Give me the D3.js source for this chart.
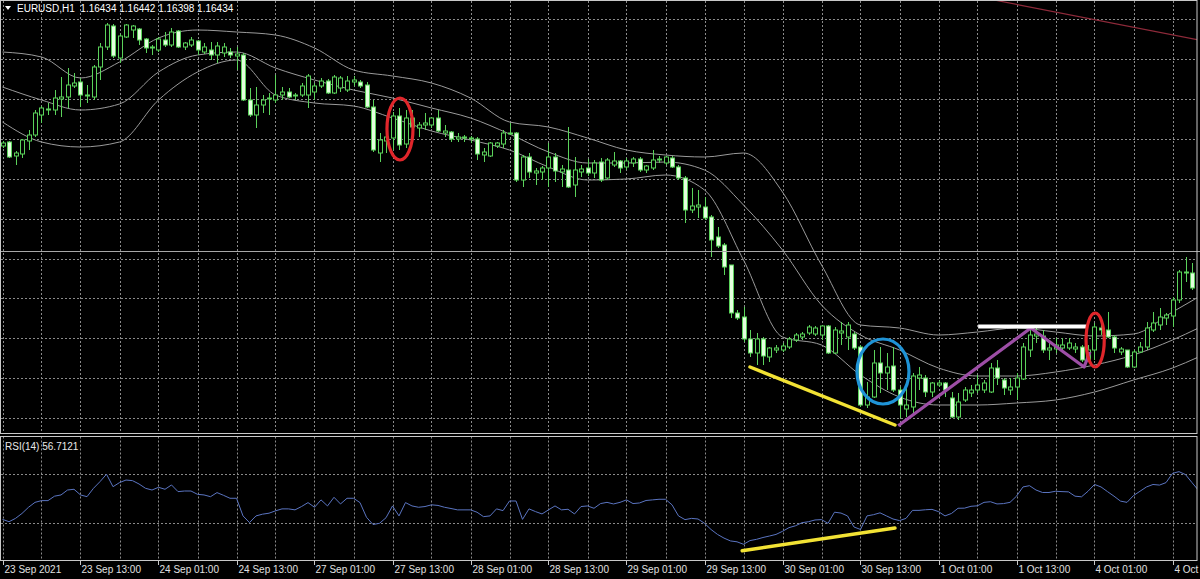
<!DOCTYPE html>
<html><head><meta charset="utf-8">
<script src="https://cdn.jsdelivr.net/npm/d3@7"></script>
<style>html,body{margin:0;padding:0;background:#000;overflow:hidden}svg{display:block}text{white-space:pre}</style>
</head><body><svg id="c" width="1200" height="579"></svg>
<script>
// ---------------- DATA ----------------
const symbol = "EURUSD,H1";
const headerValues = ["1.16434","1.16442","1.16398","1.16434"];
const rsiTitle = "RSI(14) 56.7121";
const tickBars = [0,12,24,36,48,60,72,84,96,108,120,132,144,156,168,180];
const tickLabels = ["23 Sep 2021","23 Sep 13:00","24 Sep 01:00","24 Sep 13:00","27 Sep 01:00","27 Sep 13:00","28 Sep 01:00","28 Sep 13:00","29 Sep 01:00","29 Sep 13:00","30 Sep 01:00","30 Sep 13:00","1 Oct 01:00","1 Oct 13:00","4 Oct 01:00","4 Oct"];

const open = [1.16960,1.16980,1.16910,1.16920,1.16985,1.17015,1.17115,1.17140,1.17140,1.17195,
1.17205,1.17260,1.17280,1.17210,1.17205,1.17355,1.17455,1.17560,1.17400,1.17505,
1.17540,1.17545,1.17495,1.17455,1.17440,1.17490,1.17465,1.17535,1.17455,1.17465,
1.17485,1.17430,1.17440,1.17415,1.17425,1.17430,1.17410,1.17415,1.17190,1.17115,
1.17165,1.17195,1.17190,1.17215,1.17230,1.17210,1.17215,1.17215,1.17230,1.17260,
1.17285,1.17225,1.17250,1.17240,1.17280,1.17280,1.17265,1.17155,1.16925,1.16985,
1.17000,1.17110,1.16970,1.17100,1.17050,1.17065,1.17065,1.17100,1.17025,1.17030,
1.16995,1.17000,1.17000,1.16995,1.16915,1.16910,1.16960,1.16970,1.17020,1.17025,
1.16790,1.16905,1.16825,1.16830,1.16850,1.16905,1.16830,1.16840,1.16765,1.16830,
1.16850,1.16825,1.16880,1.16800,1.16865,1.16885,1.16855,1.16875,1.16895,1.16840,
1.16850,1.16890,1.16875,1.16900,1.16855,1.16800,1.16640,1.16655,1.16655,1.16605,
1.16505,1.16465,1.16365,1.16125,1.16105,1.15995,1.15925,1.15995,1.15905,1.15940,
1.15940,1.15955,1.15990,1.16005,1.16025,1.16020,1.16015,1.16060,1.15925,1.16025,
1.16005,1.16020,1.15955,1.15665,1.15705,1.15875,1.15825,1.15860,1.15740,1.15645,
1.15655,1.15800,1.15800,1.15730,1.15765,1.15775,1.15700,1.15605,1.15690,1.15725,
1.15740,1.15740,1.15730,1.15850,1.15790,1.15740,1.15755,1.15795,1.15940,1.16010,
1.16010,1.15940,1.15945,1.15950,1.15950,1.15945,1.15955,1.15890,1.15940,1.16050,
1.16040,1.16005,1.15930,1.15940,1.15855,1.15930,1.15955,1.16040,1.16065,1.16100,
1.16110,1.16190,1.16325,1.16325,1.16250];
const high = [1.16985,1.16985,1.16935,1.16995,1.17040,1.17140,1.17160,1.17175,1.17240,1.17305,
1.17350,1.17325,1.17300,1.17265,1.17365,1.17475,1.17575,1.17570,1.17520,1.17570,
1.17565,1.17550,1.17500,1.17465,1.17505,1.17530,1.17550,1.17540,1.17480,1.17505,
1.17490,1.17475,1.17480,1.17480,1.17475,1.17450,1.17455,1.17425,1.17250,1.17255,
1.17215,1.17225,1.17315,1.17255,1.17250,1.17225,1.17275,1.17320,1.17275,1.17300,
1.17295,1.17315,1.17310,1.17310,1.17310,1.17290,1.17280,1.17190,1.17025,1.17040,
1.17130,1.17150,1.17140,1.17140,1.17080,1.17125,1.17105,1.17140,1.17065,1.17035,
1.17025,1.17015,1.17010,1.17005,1.16950,1.16980,1.16980,1.17040,1.17075,1.17030,
1.16915,1.16925,1.16850,1.16860,1.16975,1.16925,1.16865,1.17055,1.16905,1.16865,
1.16895,1.16890,1.16900,1.16900,1.16930,1.16890,1.16900,1.16905,1.16905,1.16865,
1.16940,1.16910,1.16910,1.16910,1.16865,1.16810,1.16750,1.16740,1.16705,1.16615,
1.16555,1.16475,1.16365,1.16140,1.16155,1.16040,1.16025,1.16005,1.15955,1.15965,
1.15975,1.16005,1.16025,1.16030,1.16065,1.16060,1.16065,1.16065,1.16055,1.16080,
1.16080,1.16030,1.15965,1.15780,1.15940,1.15955,1.15925,1.15955,1.15755,1.15775,
1.15825,1.15855,1.15815,1.15780,1.15790,1.15780,1.15730,1.15725,1.15755,1.15765,
1.15815,1.15790,1.15875,1.15890,1.15800,1.15800,1.15825,1.15975,1.16040,1.16055,
1.16040,1.15980,1.16000,1.16000,1.16000,1.15975,1.15965,1.15965,1.16075,1.16090,
1.16130,1.16015,1.15955,1.15940,1.15940,1.15980,1.16080,1.16130,1.16150,1.16125,
1.16205,1.16340,1.16405,1.16375,1.16280];
const low = [1.16950,1.16900,1.16865,1.16900,1.16940,1.17005,1.17075,1.17115,1.17115,1.17105,
1.17150,1.17250,1.17155,1.17175,1.17190,1.17290,1.17440,1.17400,1.17375,1.17500,
1.17500,1.17465,1.17425,1.17415,1.17430,1.17455,1.17455,1.17450,1.17440,1.17455,
1.17415,1.17420,1.17390,1.17375,1.17405,1.17400,1.17340,1.17185,1.17105,1.17050,
1.17125,1.17115,1.17175,1.17190,1.17200,1.17190,1.17205,1.17150,1.17190,1.17250,
1.17220,1.17220,1.17230,1.17230,1.17260,1.17250,1.17150,1.16930,1.16880,1.16925,
1.16940,1.16940,1.16950,1.17040,1.17005,1.17040,1.17050,1.17030,1.17005,1.16980,
1.16980,1.16980,1.16975,1.16890,1.16880,1.16905,1.16950,1.16950,1.17015,1.16780,
1.16755,1.16800,1.16765,1.16790,1.16755,1.16780,1.16755,1.16750,1.16705,1.16805,
1.16810,1.16800,1.16780,1.16790,1.16855,1.16825,1.16840,1.16855,1.16830,1.16825,
1.16840,1.16875,1.16865,1.16850,1.16790,1.16575,1.16625,1.16600,1.16590,1.16405,
1.16450,1.16315,1.16100,1.16090,1.15980,1.15905,1.15865,1.15865,1.15880,1.15925,
1.15930,1.15945,1.15980,1.15990,1.16015,1.16010,1.15990,1.15920,1.15920,1.15965,
1.15940,1.15940,1.15655,1.15650,1.15700,1.15725,1.15740,1.15730,1.15600,1.15605,
1.15625,1.15740,1.15705,1.15705,1.15755,1.15705,1.15600,1.15590,1.15680,1.15705,
1.15725,1.15725,1.15725,1.15765,1.15715,1.15715,1.15690,1.15790,1.15905,1.15975,
1.15925,1.15890,1.15925,1.15930,1.15940,1.15925,1.15880,1.15880,1.15890,1.16015,
1.16000,1.15925,1.15915,1.15850,1.15850,1.15925,1.15940,1.16030,1.16040,1.16065,
1.16055,1.16175,1.16280,1.16240,1.16230];
const close = [1.16975,1.16905,1.16925,1.16990,1.17015,1.17125,1.17150,1.17145,1.17200,1.17205,
1.17265,1.17275,1.17215,1.17215,1.17355,1.17455,1.17565,1.17410,1.17510,1.17565,
1.17560,1.17490,1.17450,1.17450,1.17495,1.17465,1.17530,1.17455,1.17475,1.17490,
1.17440,1.17455,1.17415,1.17460,1.17455,1.17415,1.17420,1.17190,1.17115,1.17165,
1.17190,1.17200,1.17215,1.17230,1.17205,1.17215,1.17260,1.17310,1.17260,1.17285,
1.17225,1.17305,1.17300,1.17285,1.17290,1.17260,1.17155,1.16940,1.16990,1.17005,
1.17110,1.16965,1.17100,1.17055,1.17065,1.17075,1.17100,1.17035,1.17035,1.16995,
1.17005,1.17005,1.16995,1.16920,1.16930,1.16975,1.16975,1.17025,1.17025,1.16790,
1.16905,1.16830,1.16835,1.16850,1.16905,1.16835,1.16845,1.16755,1.16840,1.16845,
1.16825,1.16875,1.16790,1.16890,1.16885,1.16850,1.16885,1.16895,1.16840,1.16860,
1.16890,1.16895,1.16905,1.16855,1.16800,1.16640,1.16660,1.16665,1.16600,1.16490,
1.16460,1.16355,1.16125,1.16100,1.15995,1.15925,1.15995,1.15910,1.15950,1.15950,
1.15960,1.15995,1.16015,1.16020,1.16055,1.16050,1.16060,1.15925,1.16040,1.16035,
1.16065,1.15950,1.15665,1.15705,1.15875,1.15825,1.15855,1.15740,1.15665,1.15665,
1.15810,1.15815,1.15730,1.15775,1.15775,1.15740,1.15605,1.15680,1.15740,1.15740,
1.15765,1.15775,1.15850,1.15800,1.15750,1.15755,1.15800,1.15955,1.16015,1.16020,
1.15940,1.15950,1.15965,1.15965,1.15975,1.15955,1.15890,1.15940,1.16055,1.16040,
1.16005,1.15950,1.15945,1.15855,1.15930,1.15955,1.16050,1.16075,1.16105,1.16115,
1.16190,1.16330,1.16330,1.16250,1.16265];

const bandBars = [0,6,12,18,24,30,36,42,48,54,60,66,72,78,84,90,96,102,108,114,120,126,132,138,144,150,156,162,168,174,180,184];
const bandUpper = [1.17430,1.17405,1.17300,1.17380,1.17500,1.17540,1.17530,1.17515,1.17450,1.17340,1.17310,1.17275,1.17200,1.17080,1.17055,1.17000,1.16940,1.16915,1.16905,1.16925,1.16730,1.16365,1.16065,1.16050,1.16015,1.16030,1.16050,1.16030,1.16010,1.16020,1.16130,1.16205];
const bandMiddle = [1.17255,1.17190,1.17140,1.17170,1.17330,1.17415,1.17430,1.17350,1.17290,1.17240,1.17200,1.17150,1.17100,1.17020,1.16930,1.16875,1.16875,1.16880,1.16840,1.16665,1.16440,1.16165,1.16015,1.15940,1.15850,1.15810,1.15810,1.15830,1.15865,1.15915,1.15990,1.16050];
const bandLower = [1.17080,1.16980,1.16955,1.16980,1.17190,1.17330,1.17390,1.17215,1.17175,1.17160,1.17100,1.17035,1.16990,1.16940,1.16855,1.16790,1.16795,1.16815,1.16740,1.16390,1.16005,1.15965,1.15815,1.15705,1.15665,1.15665,1.15675,1.15690,1.15730,1.15790,1.15850,1.15905];

const rsi = [33.2,31.3,34,38,43,47,48.4,48.4,52,53,57,57.6,53,51.6,58.4,63.8,69.8,59.7,63,65.1,
64.6,61.9,58.4,57,59.2,57.6,61.1,55.7,56.2,56.2,53.5,53,51.6,54.9,52.7,50.3,50.3,36,30.6,36,
37.4,38.2,40.1,41.7,41.7,40.9,43.6,46.8,43,49,44.1,51.1,45.7,50.3,50.3,46.8,34.9,29,30,34.5,
44.1,36,46.8,44.1,43,43.6,45,44.5,43,42,40.9,40.9,40.9,39,35.4,36,41.7,40.3,48.1,48.1,
33.2,41.7,39.5,37.6,40.9,44.1,40.9,41.4,37.6,43.6,44.1,42.2,46,47,45.7,47,49,46,46.5,48.5,
49,49.5,49.5,45,36,33,34,33.5,30,25,21,18,15.7,15,13,16,17,18.5,19.7,21,
23.5,26.5,28,30.5,31.3,32.7,33,30,39,38.3,36,27,25,36,37,38.5,36,33.5,32.2,34,
40.5,40.5,41,41.3,39.5,36,38,42.2,42.3,43.8,44.2,47,47.5,45.7,46,47,52,59.5,60.5,57,
55,55,56,55.7,55.5,52,51.5,56,61.5,59.5,55.7,52,48,47,52.5,56,59.5,61.5,61,63,
70.5,71.9,69.5,63,56.7];
const rsiLevels = [70,30];

const bidPrice = 1.16434;
const gridTopPrice = 1.175925, gridStep = 0.0019925, gridCount = 11;
const trendRed = [[140,1.1777],[184,1.1749]];
const yellowMain = [[115.0,1.15855],[137.3,1.15565]];
const purplePath = [[137.8,1.155615],[158.2,1.16050],[166.4,1.15855],[167.3,1.15930]];
const whiteLevel = [[150.1,1.160575],[166.8,1.160575]];
const yellowRsi = [[113.8,7.8],[137.3,26.2]];
// ellipses: centre [bar, price], radius [bars, price]
const ellipses = [
  {c:[61.15,1.17045], r:[2.0,0.00155], color:"#e0262b"},
  {c:[135.46,1.158325], r:[4.0,0.001625], color:"#1f93d6"},
  {c:[168.1,1.15990], r:[1.4,0.00135], color:"#e0262b"}
];

// ---------------- DRAW ----------------
const svg = d3.select("#c");
const L = 1, R = 1197, mainTop = 1, mainBottom = 433, rsiTop = 436.5, rsiBottom = 560.5;
const x = d3.scaleLinear().domain([0,184]).range([2.5,1198.5]);
const y = d3.scaleLinear().domain([1.17690,1.15525]).range([0,433]);
const yr = d3.scaleLinear().domain([100,0]).range([437,560.3]);

svg.append("rect").attr("width",1200).attr("height",579).attr("fill","#000");
const defs = svg.append("defs");
defs.append("clipPath").attr("id","cm").append("rect").attr("x",L).attr("y",mainTop).attr("width",R-L).attr("height",mainBottom-mainTop);
defs.append("clipPath").attr("id","cr").append("rect").attr("x",L).attr("y",rsiTop).attr("width",R-L).attr("height",rsiBottom-rsiTop);

const gridColor = "#8a8a8a";
const vBars = d3.range(0,185,6);
const gMain = svg.append("g").attr("clip-path","url(#cm)");
const gRsi = svg.append("g").attr("clip-path","url(#cr)");
vBars.forEach(b=>{
  const xx = Math.round(x(b))+0.5;
  gMain.append("line").attr("x1",xx).attr("x2",xx).attr("y1",mainTop).attr("y2",mainBottom)
    .attr("stroke",gridColor).attr("stroke-dasharray","2,2");
  gRsi.append("line").attr("x1",xx).attr("x2",xx).attr("y1",rsiTop).attr("y2",rsiBottom)
    .attr("stroke",gridColor).attr("stroke-dasharray","2,2");
});
d3.range(gridCount).forEach(k=>{
  const yy = Math.round(y(gridTopPrice - k*gridStep))+0.5;
  gMain.append("line").attr("x1",L).attr("x2",R).attr("y1",yy).attr("y2",yy)
    .attr("stroke",gridColor).attr("stroke-dasharray","2,2");
});
rsiLevels.forEach(v=>{
  const yy = Math.round(yr(v))+0.5;
  gRsi.append("line").attr("x1",L).attr("x2",R).attr("y1",yy).attr("y2",yy)
    .attr("stroke",gridColor).attr("stroke-dasharray","2,2");
});

// bands
const bandLine = d3.line().x(d=>x(d[0])).y(d=>y(d[1])).curve(d3.curveMonotoneX);
[bandUpper,bandMiddle,bandLower].forEach(arr=>{
  gMain.append("path").attr("d",bandLine(bandBars.map((b,i)=>[b,arr[i]])))
    .attr("fill","none").attr("stroke","#9a9a9a").attr("stroke-width",1);
});

// bid line
const by = Math.round(y(bidPrice))+0.5;
svg.append("line").attr("x1",0).attr("x2",1200).attr("y1",by).attr("y2",by).attr("stroke","#a8a8a8").attr("stroke-width",1);

// candles
const green = "#5bd25b", bearFill = "#e4ffdf";
const gC = gMain.append("g");
open.forEach((o,i)=>{
  const c = close[i], h = Math.max(high[i],o,c), l = Math.min(low[i],o,c);
  const cx = Math.round(x(i))+0.5;
  gC.append("line").attr("x1",cx).attr("x2",cx).attr("y1",y(h)).attr("y2",y(l)).attr("stroke",green).attr("stroke-width",1);
  const top = y(Math.max(o,c)), bot = y(Math.min(o,c));
  const hgt = Math.max(1, bot-top);
  gC.append("rect").attr("x",cx-2).attr("y",top).attr("width",4).attr("height",hgt)
    .attr("fill", c < o ? bearFill : "#000").attr("stroke",green).attr("stroke-width",1);
});

// red trend line
const ln = d3.line().x(d=>x(d[0])).y(d=>y(d[1]));
gMain.append("path").attr("d",ln(trendRed)).attr("stroke","#8e2a3a").attr("stroke-width",1.2).attr("fill","none");

// annotations
gMain.append("path").attr("d",ln(yellowMain)).attr("stroke","#f2e234").attr("stroke-width",3.5).attr("fill","none").attr("stroke-linecap","round");
gMain.append("path").attr("d",ln(purplePath)).attr("stroke","#9d4ea6").attr("stroke-width",3.2).attr("fill","none").attr("stroke-linejoin","round");
gMain.append("path").attr("d",ln(whiteLevel)).attr("stroke","#ffffff").attr("stroke-width",4).attr("fill","none");
ellipses.forEach(e=>{
  const cxx = x(e.c[0]), cyy = y(e.c[1]);
  const rx = x(e.c[0]+e.r[0]) - cxx, ry = y(e.c[1]-e.r[1]) - cyy;
  gMain.append("ellipse").attr("cx",cxx).attr("cy",cyy).attr("rx",rx).attr("ry",ry)
    .attr("fill","none").attr("stroke",e.color).attr("stroke-width",3.2);
});

// RSI line
const rl = d3.line().x((d,i)=>x(i)).y(d=>yr(d));
gRsi.append("path").attr("d",rl(rsi)).attr("fill","none").attr("stroke","#5a74c0").attr("stroke-width",1);
const rln = d3.line().x(d=>x(d[0])).y(d=>yr(d[1]));
gRsi.append("path").attr("d",rln(yellowRsi)).attr("stroke","#f2e234").attr("stroke-width",3.5).attr("fill","none").attr("stroke-linecap","round");

// borders
const border = "#c8c8c8";
svg.append("rect").attr("x",0.5).attr("y",0.5).attr("width",R-0.5).attr("height",mainBottom).attr("fill","none").attr("stroke",border);
svg.append("rect").attr("x",0.5).attr("y",rsiTop).attr("width",R-0.5).attr("height",rsiBottom-rsiTop).attr("fill","none").attr("stroke",border);

// header
const font = "'Liberation Sans', Arial, sans-serif";
svg.append("path").attr("d","M5,6 L11,6 L8,10 Z").attr("fill","#fff");
svg.append("text").attr("x",17).attr("y",12).attr("fill","#fff").attr("font-family",font).attr("font-size",10)
  .text(symbol + "  " + headerValues.join(" "));
svg.append("text").attr("x",5).attr("y",449.5).attr("fill","#e8e8e8").attr("font-family",font).attr("font-size",10).text(rsiTitle);

// x axis labels
const gx = svg.append("g");
tickBars.forEach((b,i)=>{
  const xx = Math.round(x(b))+0.5;
  gx.append("line").attr("x1",xx).attr("x2",xx).attr("y1",560.5).attr("y2",565).attr("stroke","#c8c8c8");
  gx.append("text").attr("x",xx+1).attr("y",573).attr("fill","#e0e0e0").attr("font-family",font).attr("font-size",10).text(tickLabels[i]);
});
</script></body></html>
